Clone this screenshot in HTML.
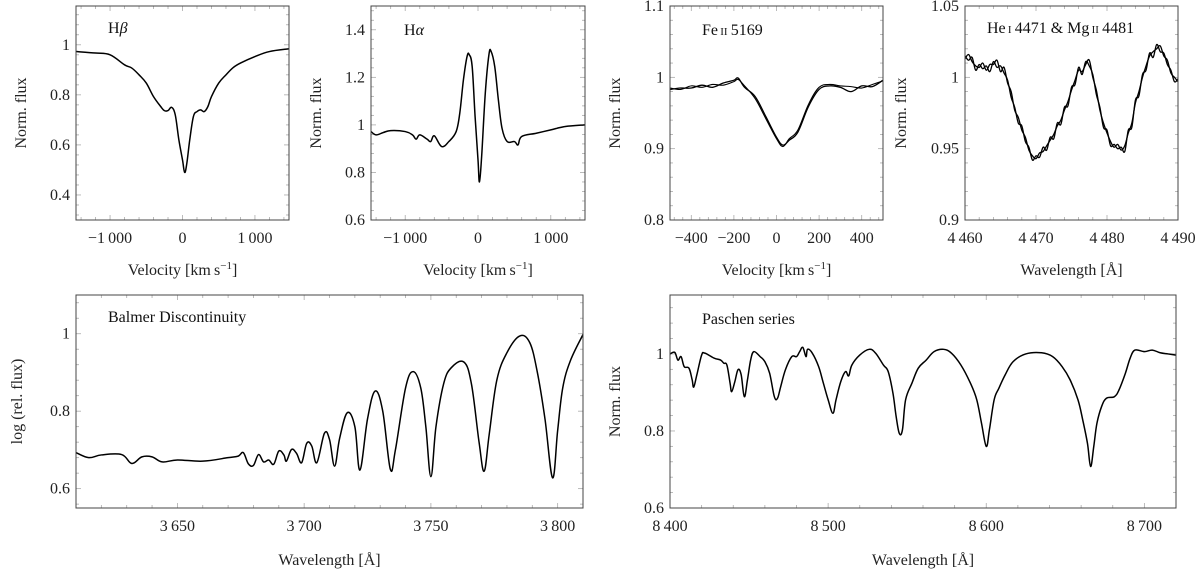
<!DOCTYPE html>
<html><head><meta charset="utf-8">
<style>
html,body{margin:0;padding:0;background:#fff;}
svg{display:block;font-family:"Liberation Serif",serif;}
</style></head>
<body>
<svg id="fig" width="1200" height="573" viewBox="0 0 1200 573" xmlns="http://www.w3.org/2000/svg"></svg>
<script>
// ---- Data arrays ----
const hbX = [-1470,-1200,-1000,-800,-700,-600,-500,-400,-300,-250,-200,-150,-100,-50,0,30,60,100,150,200,250,300,350,400,500,600,700,800,1000,1200,1470];
const hbY = [0.973,0.967,0.96,0.92,0.907,0.88,0.847,0.793,0.753,0.737,0.737,0.75,0.72,0.62,0.54,0.49,0.527,0.62,0.713,0.733,0.74,0.733,0.753,0.793,0.847,0.88,0.909,0.927,0.953,0.973,0.984];
const haX = [-1470,-1400,-1300,-1200,-1000,-900,-850,-800,-700,-650,-600,-500,-400,-300,-250,-200,-150,-120,-80,-40,0,20,50,100,150,180,230,280,330,400,500,550,600,800,1000,1200,1470];
const haY = [0.972,0.958,0.968,0.976,0.972,0.958,0.94,0.958,0.94,0.93,0.954,0.909,0.93,0.972,1.05,1.19,1.288,1.295,1.245,1.035,0.853,0.76,0.867,1.133,1.295,1.309,1.245,1.105,0.986,0.93,0.93,0.916,0.951,0.965,0.979,0.993,1.0];
const feX = [-500,-450,-400,-350,-300,-250,-200,-180,-150,-100,-50,0,30,60,100,150,200,250,300,350,400,450,500];
const feY1 = [0.983,0.985,0.985,0.989,0.986,0.992,0.996,0.999,0.986,0.973,0.945,0.916,0.905,0.912,0.923,0.959,0.983,0.988,0.986,0.98,0.988,0.987,0.996];
const feY2 = [0.985,0.983,0.988,0.986,0.99,0.989,0.994,0.997,0.988,0.97,0.942,0.914,0.903,0.914,0.926,0.962,0.986,0.99,0.988,0.987,0.985,0.99,0.995];
const heX = [4460,4460.5,4461,4461.5,4462,4462.5,4463,4463.5,4464,4464.5,4465,4465.5,4466,4466.5,4467,4467.5,4468,4468.5,4469,4469.5,4470,4470.5,4471,4471.5,4472,4472.5,4473,4473.5,4474,4474.5,4475,4475.5,4476,4476.5,4477,4477.5,4478,4478.5,4479,4479.5,4480,4480.5,4481,4481.5,4482,4482.5,4483,4483.5,4484,4484.5,4485,4485.5,4486,4486.5,4487,4487.5,4488,4488.5,4489,4489.5,4490];
const heY1 = [1.013,1.016,1.011,1.008,1.007,1.01,1.005,1.009,1.009,1.012,1.004,1.007,0.996,0.99,0.977,0.972,0.963,0.958,0.949,0.945,0.943,0.947,0.948,0.952,0.956,0.96,0.966,0.97,0.977,0.983,0.991,0.998,1.005,1.004,1.009,1.012,1.0,0.991,0.977,0.968,0.961,0.955,0.951,0.953,0.949,0.952,0.961,0.968,0.982,0.99,1.0,1.008,1.015,1.018,1.02,1.022,1.015,1.012,1.003,1.0,0.997];
const heY2 = [1.015,1.012,1.014,1.005,1.009,1.006,1.008,1.004,1.011,1.007,1.008,1.003,0.998,0.986,0.979,0.968,0.966,0.955,0.951,0.942,0.945,0.944,0.951,0.949,0.958,0.957,0.968,0.967,0.979,0.98,0.993,0.995,1.007,1.002,1.011,1.008,1.002,0.988,0.979,0.965,0.963,0.952,0.953,0.95,0.951,0.948,0.963,0.965,0.984,0.987,1.002,1.005,1.017,1.014,1.023,1.018,1.017,1.009,1.005,0.997,0.999];
const baX = [3610,3615,3620,3628,3632,3636,3640,3644,3650,3660,3670,3674,3676,3678,3680,3682,3684,3686,3688,3690,3692,3693,3695,3697,3699,3701,3703,3705,3708,3710,3712,3714,3717,3720,3722,3725,3728,3731,3734,3736,3740,3743,3746,3748,3750,3752,3755,3758,3763,3766,3769,3771,3773,3776,3780,3785,3789,3792,3795,3798,3800,3802,3805,3810];
const baY = [0.693,0.68,0.687,0.688,0.665,0.682,0.682,0.669,0.674,0.671,0.68,0.684,0.693,0.664,0.66,0.688,0.669,0.674,0.663,0.697,0.687,0.671,0.701,0.691,0.667,0.717,0.71,0.667,0.743,0.727,0.658,0.73,0.796,0.76,0.648,0.78,0.852,0.8,0.65,0.7,0.86,0.902,0.86,0.76,0.631,0.76,0.87,0.912,0.927,0.87,0.72,0.645,0.74,0.88,0.951,0.994,0.977,0.9,0.78,0.628,0.75,0.86,0.93,0.998];
const paX = [8400,8403,8405,8407,8409,8412,8414,8415,8417,8420,8422,8428,8432,8434,8436,8438,8439,8441,8443,8445,8447,8449,8451,8453,8457,8460,8463,8466,8468,8470,8473,8477,8480,8482,8484,8486,8487,8490,8494,8497,8500,8503,8505,8508,8511,8513,8515,8520,8526,8530,8535,8538,8541,8543,8545,8547,8549,8553,8557,8562,8567,8573,8578,8584,8590,8594,8597,8600,8602,8605,8608,8612,8617,8625,8635,8642,8648,8653,8658,8661,8664,8666,8668,8670,8673,8676,8681,8684,8688,8691,8694,8700,8705,8710,8715,8720];
const paY = [1.0,1.004,0.984,0.993,0.967,0.963,0.933,0.914,0.946,0.997,1.002,0.989,0.984,0.976,0.971,0.924,0.902,0.928,0.959,0.946,0.889,0.933,0.984,1.006,0.993,0.98,0.95,0.889,0.885,0.915,0.959,0.993,0.993,1.006,1.017,0.993,1.012,1.002,0.967,0.924,0.881,0.846,0.881,0.928,0.954,0.943,0.971,0.997,1.012,1.002,0.971,0.954,0.898,0.838,0.794,0.803,0.881,0.924,0.963,0.984,1.006,1.012,1.002,0.971,0.924,0.881,0.82,0.76,0.803,0.881,0.911,0.946,0.98,1.0,1.003,0.993,0.967,0.933,0.881,0.829,0.768,0.708,0.76,0.82,0.864,0.885,0.889,0.907,0.95,0.989,1.01,1.006,1.01,1.003,1.0,0.997];

const hbXTicks = [-1000,0,1000], hbXLabels = ["\u22121\u2009000","0","1\u2009000"];
const hbYTicks = [0.4,0.6,0.8,1], hbYLabels = ["0.4","0.6","0.8","1"];
const haYTicks = [0.6,0.8,1,1.2,1.4], haYLabels = ["0.6","0.8","1","1.2","1.4"];
const feXTicks = [-400,-200,0,200,400], feXLabels = ["\u2212400","\u2212200","0","200","400"];
const feYTicks = [0.8,0.9,1,1.1], feYLabels = ["0.8","0.9","1","1.1"];
const heXTicks = [4460,4470,4480,4490], heXLabels = ["4\u2009460","4\u2009470","4\u2009480","4\u2009490"];
const heYTicks = [0.9,0.95,1,1.05], heYLabels = ["0.9","0.95","1","1.05"];
const baXTicks = [3650,3700,3750,3800], baXLabels = ["3\u2009650","3\u2009700","3\u2009750","3\u2009800"];
const baYTicks = [0.6,0.8,1], baYLabels = ["0.6","0.8","1"];
const paXTicks = [8400,8500,8600,8700], paXLabels = ["8\u2009400","8\u2009500","8\u2009600","8\u2009700"];
const paYTicks = [0.6,0.8,1], paYLabels = ["0.6","0.8","1"];

const NS = "http://www.w3.org/2000/svg";
const svg = document.getElementById("fig");
function mk(tag, attrs, parent){
  const e = document.createElementNS(NS, tag);
  for (const k in attrs) e.setAttribute(k, attrs[k]);
  (parent||svg).appendChild(e);
  return e;
}
function smoothPath(P){
  let d = "M" + P[0][0].toFixed(2) + "," + P[0][1].toFixed(2);
  for (let i = 0; i < P.length - 1; i++) {
    const p0 = P[Math.max(0,i-1)], p1 = P[i], p2 = P[i+1], p3 = P[Math.min(P.length-1,i+2)];
    const t = 0.18;
    const c1x = p1[0] + (p2[0]-p0[0])*t, c1y = p1[1] + (p2[1]-p0[1])*t;
    const c2x = p2[0] - (p3[0]-p1[0])*t, c2y = p2[1] - (p3[1]-p1[1])*t;
    d += " C" + c1x.toFixed(2) + "," + c1y.toFixed(2) + " " + c2x.toFixed(2) + "," + c2y.toFixed(2) + " " + p2[0].toFixed(2) + "," + p2[1].toFixed(2);
  }
  return d;
}
function panel(o){
  const g = mk("g", {});
  
  
  const sx = v => o.x0 + (v - o.xmin) / (o.xmax - o.xmin) * (o.x1 - o.x0);
  const sy = v => o.y1 - (v - o.ymin) / (o.ymax - o.ymin) * (o.y1 - o.y0);
  const xstep = o.xt[1] - o.xt[0], ystep = o.yt[1] - o.yt[0];
  for (let v = o.xt[0] - 10*xstep; v <= o.xmax + 1e-9; v += xstep/5) {
    if (v < o.xmin - 1e-9) continue;
    const major = Math.abs(((v - o.xt[0]) / xstep) - Math.round((v - o.xt[0]) / xstep)) < 1e-6;
    const L = major ? 5 : 3, X = sx(v);
    mk("line", {x1:X, x2:X, y1:o.y1, y2:o.y1-L, stroke:"#aaa", "stroke-width":0.8}, g);
    mk("line", {x1:X, x2:X, y1:o.y0, y2:o.y0+L, stroke:"#aaa", "stroke-width":0.8}, g);
  }
  for (let v = o.yt[0] - 10*ystep; v <= o.ymax + 1e-9; v += ystep/5) {
    if (v < o.ymin - 1e-9) continue;
    const major = Math.abs(((v - o.yt[0]) / ystep) - Math.round((v - o.yt[0]) / ystep)) < 1e-6;
    const L = major ? 5 : 3, Y = sy(v);
    mk("line", {x1:o.x0, x2:o.x0+L, y1:Y, y2:Y, stroke:"#aaa", "stroke-width":0.8}, g);
    mk("line", {x1:o.x1, x2:o.x1-L, y1:Y, y2:Y, stroke:"#aaa", "stroke-width":0.8}, g);
  }
  o.xt.forEach((v, i) => {
    const t = mk("text", {x:sx(v), y:o.y1+23, "text-anchor":"middle", "font-size":16, fill:"#222"}, g);
    t.textContent = o.xl[i];
    
    
  });
  o.yt.forEach((v, i) => {
    const t = mk("text", {x:o.x0-6, y:sy(v)+5, "text-anchor":"end", "font-size":16, fill:"#222"}, g);
    t.textContent = o.yl[i];
    
    
  });
  o.series.forEach(s => {
    const P = s.x.map((v, i) => [sx(v), sy(s.y[i])]);
    const p = mk("path", {d:smoothPath(P), fill:"none", stroke:"#000", "stroke-width":s.w||1.5, "stroke-linejoin":"round"}, g);
    
    
  });
  const r = mk("rect", {x:o.x0, y:o.y0, width:o.x1-o.x0, height:o.y1-o.y0, fill:"none", stroke:"#444", "stroke-width":1}, g);
  
  
  const tt = mk("text", {x:o.tx, y:o.ty, "font-size":16, fill:"#111"}, g);
  tt.innerHTML = o.title;
  
  
  const xa = mk("text", {x:(o.x0+o.x1)/2, y:o.xly, "text-anchor":"middle", "font-size":16, fill:"#222"}, g);
  xa.innerHTML = o.xlabel;
  
  
  const cy = (o.y0+o.y1)/2;
  const ya = mk("text", {x:o.ylx, y:cy, "text-anchor":"middle", "font-size":16, fill:"#222", transform:"rotate(-90 "+o.ylx+" "+cy+")"}, g);
  ya.textContent = o.ylabel;
  
  
}
const velLbl = 'Velocity [km\u2009s<tspan dy="-6" font-size="11">\u22121</tspan><tspan dy="6">]</tspan>';
const wlLbl = 'Wavelength [\u00C5]';
panel({name:"hbeta-panel", x0:76,x1:289,y0:6,y1:220, xmin:-1470,xmax:1470, ymin:0.3,ymax:1.155,
  xt:hbXTicks, xl:hbXLabels, yt:hbYTicks, yl:hbYLabels,
  series:[{x:hbX,y:hbY,name:"hbeta-line"}], title:'H<tspan font-style="italic">\u03B2</tspan>', tx:108, ty:33,
  xlabel:velLbl, xly:275, ylabel:"Norm. flux", ylx:26});
panel({name:"halpha-panel", x0:371,x1:585,y0:6,y1:220, xmin:-1470,xmax:1470, ymin:0.6,ymax:1.5,
  xt:hbXTicks, xl:hbXLabels, yt:haYTicks, yl:haYLabels,
  series:[{x:haX,y:haY,name:"halpha-line"}], title:'H<tspan font-style="italic">\u03B1</tspan>', tx:404, ty:35,
  xlabel:velLbl, xly:275, ylabel:"Norm. flux", ylx:321});
panel({name:"feii-panel", x0:670,x1:883,y0:6,y1:220, xmin:-500,xmax:500, ymin:0.8,ymax:1.1,
  xt:feXTicks, xl:feXLabels, yt:feYTicks, yl:feYLabels,
  series:[{x:feX,y:feY1,name:"feii-line-1",w:1.3},{x:feX,y:feY2,name:"feii-line-2",w:1.1}],
  title:'Fe<tspan font-size="11">\u2009II</tspan>\u20095169', tx:702, ty:35,
  xlabel:velLbl, xly:275, ylabel:"Norm. flux", ylx:620});
panel({name:"hei-mgii-panel", x0:965,x1:1178,y0:6,y1:220, xmin:4460,xmax:4490, ymin:0.9,ymax:1.05,
  xt:heXTicks, xl:heXLabels, yt:heYTicks, yl:heYLabels,
  series:[{x:heX,y:heY1,name:"hei-line-1",w:1.3},{x:heX,y:heY2,name:"hei-line-2",w:1.3}],
  title:'He<tspan font-size="11">\u2009I</tspan>\u20094471 &amp; Mg<tspan font-size="11">\u2009II</tspan>\u20094481', tx:987, ty:33,
  xlabel:wlLbl, xly:275, ylabel:"Norm. flux", ylx:906});
panel({name:"balmer-panel", x0:76,x1:583,y0:295,y1:508, xmin:3610,xmax:3810, ymin:0.55,ymax:1.1,
  xt:baXTicks, xl:baXLabels, yt:baYTicks, yl:baYLabels,
  series:[{x:baX,y:baY,name:"balmer-line"}], title:'Balmer Discontinuity', tx:108, ty:322,
  xlabel:wlLbl, xly:565, ylabel:"log (rel. flux)", ylx:22});
panel({name:"paschen-panel", x0:670,x1:1176,y0:295,y1:508, xmin:8400,xmax:8720, ymin:0.6,ymax:1.153,
  xt:paXTicks, xl:paXLabels, yt:paYTicks, yl:paYLabels,
  series:[{x:paX,y:paY,name:"paschen-line"}], title:'Paschen series', tx:702, ty:324,
  xlabel:wlLbl, xly:565, ylabel:"Norm. flux", ylx:620});
</script>
</body></html>
